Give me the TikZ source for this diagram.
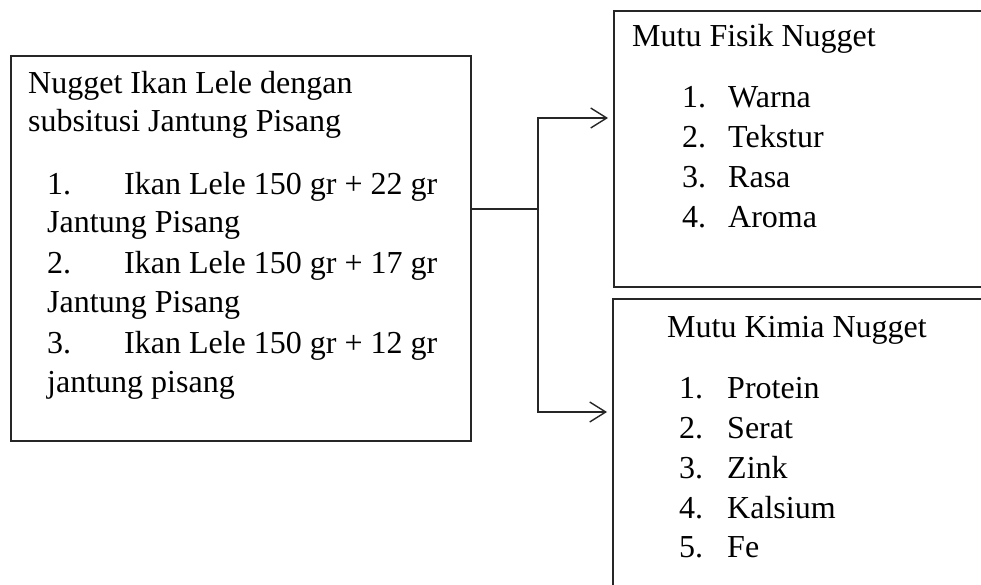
\documentclass[tikz,border=0pt]{standalone}
\usepackage{fontspec}
\setmainfont{Liberation Serif}
\usetikzlibrary{arrows.meta}
\begin{document}
\begin{tikzpicture}[x=1pt,y=-1pt,
  box/.style={draw=black!85,line width=1.6pt,rectangle,inner sep=0pt,anchor=north west},
  txt/.style={anchor=base west,inner sep=0pt,font=\fontsize{32}{38}\selectfont},
  conn/.style={draw=black!85,line width=1.4pt},
  arr/.style={conn,-{Straight Barb[length=16pt,width=20pt,line width=1.4pt]}}]
\clip (0,0) rectangle (981,585);
\fill[white] (0,0) rectangle (981,585);
% boxes
\node[box,minimum width=460pt,minimum height=385pt] (L) at (10,55) {};
\node[box,minimum width=400pt,minimum height=276pt] (F) at (613,10) {};
\node[box,minimum width=400pt,minimum height=320pt] (K) at (612,298) {};
% left text
\node[txt] (l1) at (28,94) {Nugget Ikan Lele dengan};
\node[txt] (l2) at (28,132) {subsitusi Jantung Pisang};
\node[txt] (n1) at (47,195) {1.};
\node[txt] (i1) at (124,195) {Ikan Lele 150 gr + 22 gr};
\node[txt] (j1) at (47,233) {Jantung Pisang};
\node[txt] (n2) at (47,273) {2.};
\node[txt] (i2) at (124,273) {Ikan Lele 150 gr + 17 gr};
\node[txt] (j2) at (47,312) {Jantung Pisang};
\node[txt] (n3) at (47,353) {3.};
\node[txt] (i3) at (124,353) {Ikan Lele 150 gr + 12 gr};
\node[txt] (j3) at (47,392) {jantung pisang};
% fisik text
\node[txt] (ft) at (632,47) {Mutu Fisik Nugget};
\node[txt] (fn1) at (682,108) {1.};
\node[txt] (fi1) at (728,108) {Warna};
\node[txt] (fn2) at (682,148) {2.};
\node[txt] (fi2) at (728,148) {Tekstur};
\node[txt] (fn3) at (682,188) {3.};
\node[txt] (fi3) at (728,188) {Rasa};
\node[txt] (fn4) at (682,228) {4.};
\node[txt] (fi4) at (728,228) {Aroma};
% kimia text
\node[txt] (kt) at (667,337) {Mutu Kimia Nugget};
\node[txt] (kn1) at (679,398) {1.};
\node[txt] (ki1) at (727,398) {Protein};
\node[txt] (kn2) at (679,438) {2.};
\node[txt] (ki2) at (727,438) {Serat};
\node[txt] (kn3) at (679,478) {3.};
\node[txt] (ki3) at (727,478) {Zink};
\node[txt] (kn4) at (679,518) {4.};
\node[txt] (ki4) at (727,518) {Kalsium};
\node[txt] (kn5) at (679,557) {5.};
\node[txt] (ki5) at (727,557) {Fe};
% connectors
\coordinate (J) at (538,209);
\draw[conn] (L.east |- J) -- (J);
\draw[arr] (J) -- (538,118) -- ([xshift=-5pt]F.west |- 0,118);
\draw[arr] (J) -- (538,412) -- ([xshift=-5pt]K.west |- 0,412);
\end{tikzpicture}
\end{document}
